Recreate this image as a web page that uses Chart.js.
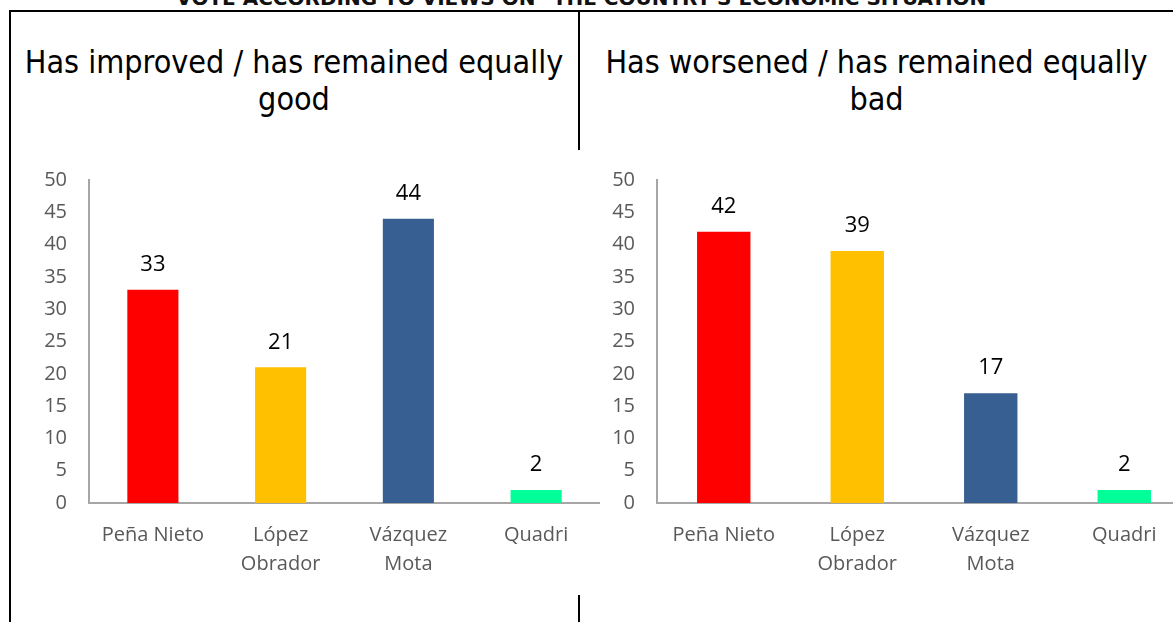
<!DOCTYPE html>
<html>
<head>
<meta charset="utf-8">
<script src="https://cdn.jsdelivr.net/npm/chart.js@4"></script>
<style>
  body { margin: 0; width: 1173px; height: 622px; overflow: hidden; background: #fff; position: relative; }
  .ln { position: absolute; background: #000; }
  .ttl { position: absolute; text-align: center; font-family: 'DejaVu Sans Condensed', 'DejaVu Sans', sans-serif; font-size: 32px; line-height: 37px; color: #000; }
  #top { position: absolute; left: 0; width: 1173px; top: -14px; line-height: 24px; text-align: center; font-family: 'DejaVu Sans', sans-serif; font-weight: bold; font-size: 20px; color: #111; }
  canvas { position: absolute; }
</style>
</head>
<body>
<div id="top">VOTE ACCORDING TO VIEWS ON "THE COUNTRY'S ECONOMIC SITUATION"</div>
<div class="ln" style="left:9px;top:10px;width:1164px;height:2px"></div>
<div class="ln" style="left:9px;top:10px;width:2px;height:612px"></div>
<div class="ln" style="left:578px;top:10px;width:2px;height:140px"></div>
<div class="ln" style="left:578px;top:595px;width:2px;height:27px"></div>
<div class="ttl" style="left:10px;width:568px;top:44px">Has improved / has remained equally<br>good</div>
<div class="ttl" style="left:580px;width:593px;top:44px">Has worsened / has remained equally<br>bad</div>
<div style="position:absolute;left:0;top:150px;width:600px;height:472px"><canvas id="c1"></canvas></div>
<div style="position:absolute;left:600px;top:150px;width:591px;height:472px"><canvas id="c2"></canvas></div>
<script>
// candidates and results (%)
const candidates = [['Peña Nieto'], ['López', 'Obrador'], ['Vázquez', 'Mota'], ['Quadri']];
const improved = [33, 21, 44, 2];
const worsened = [42, 39, 17, 2];
const barColors = ['#ff0000', '#ffc000', '#375f92', '#00ff99'];
const yTicks = [0, 5, 10, 15, 20, 25, 30, 35, 40, 45, 50];

// draws the value above each bar
const valueLabels = {
  id: 'valueLabels',
  afterDatasetsDraw(chart) {
    const ctx = chart.ctx;
    const meta = chart.getDatasetMeta(0);
    ctx.save();
    ctx.font = '22px "Open Sans", sans-serif';
    ctx.fillStyle = '#000';
    ctx.textAlign = 'center';
    ctx.textBaseline = 'middle';
    meta.data.forEach((bar, i) => {
      ctx.fillText(chart.data.datasets[0].data[i], bar.x, bar.y - 25);
    });
    ctx.restore();
  }
};

function make_chart(id, values, yWidth) {
  const ctx = document.getElementById(id);
  return new Chart(ctx, {
    type: 'bar',
    data: {
      labels: candidates,
      datasets: [{
        data: values,
        backgroundColor: barColors,
        categoryPercentage: 1.0,
        barPercentage: 0.4
      }]
    },
    options: {
      responsive: true,
      maintainAspectRatio: false,
      animation: false,
      layout: { padding: { top: 30, left: 0, right: 0, bottom: 0 } },
      plugins: { legend: { display: false }, tooltip: { enabled: false } },
      scales: {
        x: {
          grid: { display: false, drawTicks: false },
          border: { display: true, color: '#a6a6a6', width: 2 },
          ticks: { color: '#595959', font: { family: '"Open Sans", sans-serif', size: 20, lineHeight: 1.45 }, padding: 18, maxRotation: 0 },
          afterFit: s => { s.height = 119; }
        },
        y: {
          min: 0, max: 50,
          afterBuildTicks: s => { s.ticks = yTicks.map(v => ({ value: v })); },
          grid: { display: false, drawTicks: false },
          border: { display: true, color: '#a6a6a6', width: 2 },
          ticks: { color: '#595959', font: { family: '"Open Sans", sans-serif', size: 20 }, padding: 22 },
          afterFit: s => { s.width = yWidth; s.paddingTop = 14; }
        }
      }
    },
    plugins: [valueLabels]
  });
}

make_chart('c1', improved, 89);
make_chart('c2', worsened, 57);
</script>
</body>
</html>
